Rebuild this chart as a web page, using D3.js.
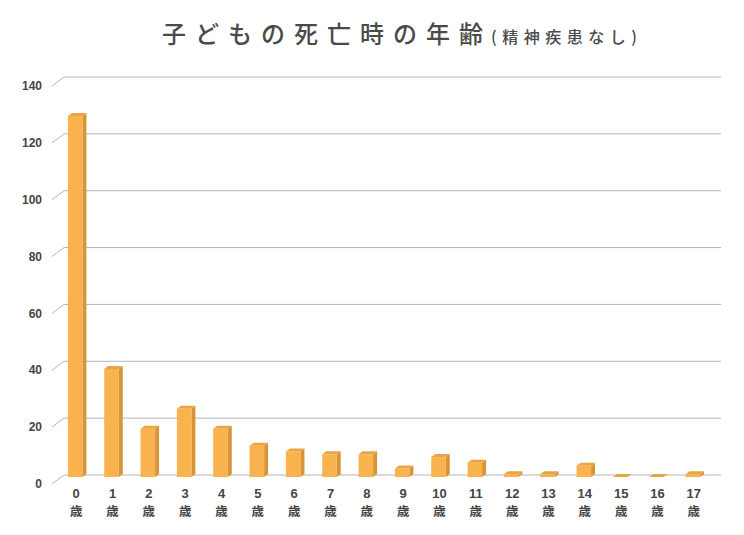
<!DOCTYPE html>
<html>
<head>
<meta charset="utf-8">
<script src="https://cdn.jsdelivr.net/npm/d3@7"></script>
<style>
  body { margin: 0; background: #fff; }
  text { font-family: "Noto Sans CJK JP", "Noto Sans", sans-serif; }
  .num { font-family: "Liberation Sans", Arial, sans-serif; }
</style>
</head>
<body>
<div id="chart"></div>
<script>
// data
const ages = ["0", "1", "2", "3", "4", "5", "6", "7", "8", "9", "10", "11", "12", "13", "14", "15", "16", "17"];
const deaths = [127, 38, 17, 24, 17, 11, 9, 8, 8, 3, 7, 5, 1, 1, 4, 0, 0, 1];
const yTicks = [0, 20, 40, 60, 80, 100, 120, 140];
const unitLabel = "歳";

const width = 744, height = 535;

// wall depth offset (front labels vs back wall) and bar depth
const wall = { dx: 12, dy: 9 };
const bar = { dx: 4, dy: 3, front: 2 };

const svg = d3.select("#chart")
  .append("svg")
  .attr("width", width)
  .attr("height", height);

// title
const title = svg.append("text")
  .attr("x", 162)
  .attr("y", 43)
  .attr("fill", "#4a4a4a");
title.append("tspan")
  .attr("font-size", "24px")
  .attr("font-weight", 500)
  .attr("letter-spacing", "9px")
  .text("子どもの死亡時の年齢");
title.append("tspan")
  .attr("font-size", "16px")
  .attr("font-weight", 500)
  .attr("letter-spacing", "5.5px")
  .attr("dx", "-1px")
  .text("(精神疾患なし)");

// scales
const x = d3.scaleBand()
  .domain(ages)
  .range([57, 711])
  .paddingInner(0.6)
  .paddingOuter(0.3);

const y = d3.scaleLinear()
  .domain([0, 140])
  .range([475, 77]);

// back wall grid lines and the small diagonal "floor" ticks
const grid = svg.append("g");
grid.selectAll("line.h")
  .data(yTicks)
  .enter()
  .append("line")
  .attr("class", "h")
  .attr("x1", 64)
  .attr("x2", 721)
  .attr("y1", d => y(d))
  .attr("y2", d => y(d))
  .attr("stroke", "#b4b4b4")
  .attr("stroke-width", 1);
grid.selectAll("line.d")
  .data(yTicks)
  .enter()
  .append("line")
  .attr("class", "d")
  .attr("x1", 64 - wall.dx)
  .attr("x2", 64)
  .attr("y1", d => y(d) + wall.dy)
  .attr("y2", d => y(d))
  .attr("stroke", "#b4b4b4")
  .attr("stroke-width", 1);

// y labels
svg.append("g")
  .selectAll("text")
  .data(yTicks)
  .enter()
  .append("text")
  .attr("class", "num")
  .attr("x", 42)
  .attr("y", d => y(d) + wall.dy)
  .attr("dy", "0.35em")
  .attr("text-anchor", "end")
  .attr("font-size", "12px")
  .attr("font-weight", "bold")
  .attr("fill", "#444")
  .text(d => d);

// 3d bars
const bars = svg.append("g")
  .selectAll("g")
  .data(ages.map((a, i) => ({ age: a, value: deaths[i] })))
  .enter()
  .append("g");

const bw = x.bandwidth();

// side face
bars.append("path")
  .attr("fill", "#d89538")
  .attr("d", d => {
    const x1 = x(d.age) + bw, yt = y(d.value) + bar.front, yb = y(0) + bar.front;
    return `M${x1},${yt} L${x1 + bar.dx},${yt - bar.dy} L${x1 + bar.dx},${yb - bar.dy} L${x1},${yb} Z`;
  });

// top face
bars.append("path")
  .attr("fill", "#eba443")
  .attr("d", d => {
    const x0 = x(d.age), yt = y(d.value) + bar.front;
    return `M${x0},${yt} L${x0 + bar.dx},${yt - bar.dy} L${x0 + bw + bar.dx},${yt - bar.dy} L${x0 + bw},${yt} Z`;
  });

// front face
bars.append("rect")
  .attr("fill", "#f8b24e")
  .attr("x", d => x(d.age))
  .attr("y", d => y(d.value) + bar.front)
  .attr("width", bw)
  .attr("height", d => y(0) - y(d.value));

// x labels: number with 歳 underneath
const xl = svg.append("g")
  .selectAll("g")
  .data(ages)
  .enter()
  .append("g")
  .attr("transform", d => `translate(${x(d) + bw / 2 + 1},0)`);
xl.append("text")
  .attr("class", "num")
  .attr("y", 498)
  .attr("text-anchor", "middle")
  .attr("font-size", "13px")
  .attr("font-weight", "bold")
  .attr("fill", "#444")
  .text(d => d);
xl.append("text")
  .attr("y", 515.5)
  .attr("text-anchor", "middle")
  .attr("font-size", "12.5px")
  .attr("font-weight", "bold")
  .attr("fill", "#444")
  .text(unitLabel);
</script>
</body>
</html>
